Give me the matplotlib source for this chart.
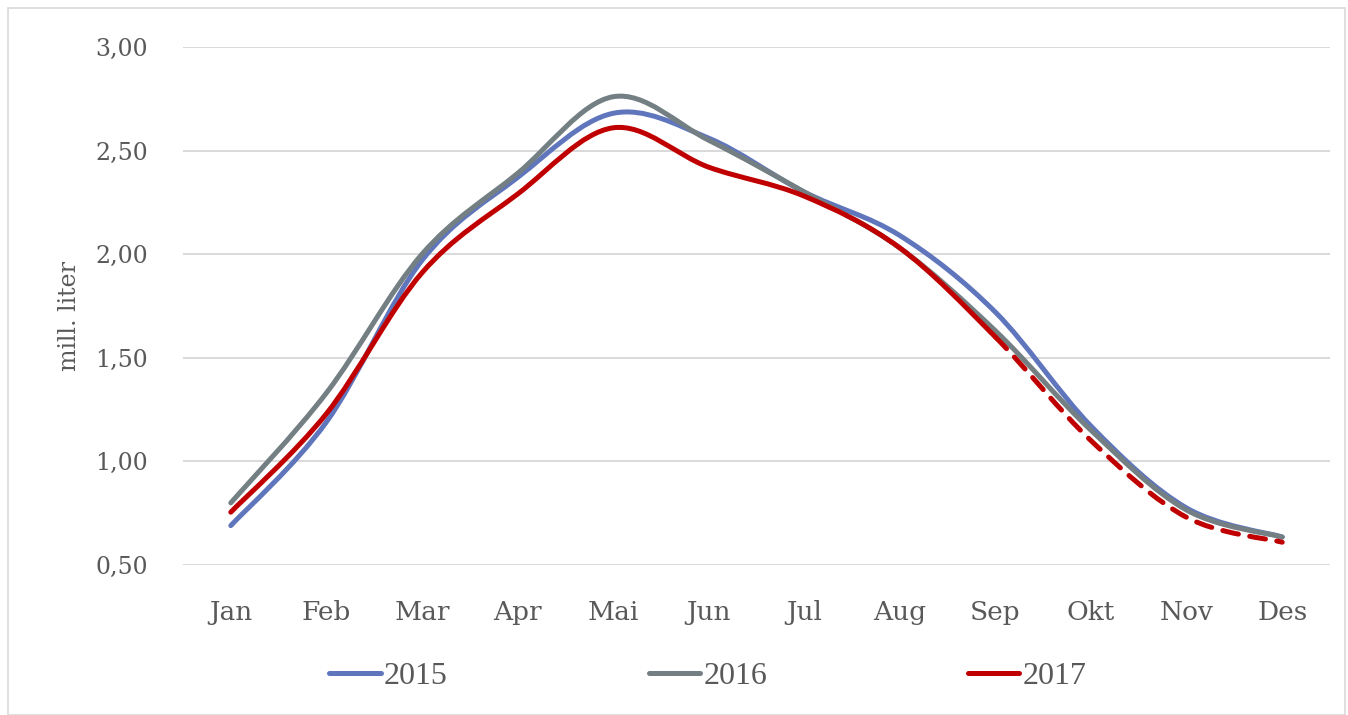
import numpy as np
import matplotlib.pyplot as plt
from matplotlib.path import Path
from matplotlib.patches import PathPatch, Rectangle
from matplotlib.lines import Line2D
from matplotlib.ticker import FuncFormatter

months = ["Jan", "Feb", "Mar", "Apr", "Mai", "Jun", "Jul", "Aug", "Sep", "Okt", "Nov", "Des"]
y2015 = [0.69, 1.19, 1.97, 2.37, 2.68, 2.56, 2.30, 2.09, 1.72, 1.17, 0.775, 0.635]
y2016 = [0.80, 1.33, 2.00, 2.39, 2.76, 2.55, 2.30, 2.03, 1.63, 1.15, 0.765, 0.635]
y2017 = [0.755, 1.23, 1.91, 2.29, 2.61, 2.42, 2.28, 2.03, 1.60, 1.10, 0.73, 0.61]
years = ["2015", "2016", "2017"]
colors = ["#6076BC", "#737F82", "#C00000"]

TXT = "#595959"
FONT = "DejaVu Serif"
LEGFONT = "Liberation Serif"


def smooth_path(xs, ys, start, stop):
    # excel-like smoothed line: bezier segments through the data points
    pts = np.column_stack([xs, ys]).astype(float)
    n = len(pts)
    verts = [pts[start]]
    codes = [Path.MOVETO]
    for i in range(start, stop):
        p0 = pts[max(i - 1, 0)]
        p1 = pts[i]
        p2 = pts[i + 1]
        p3 = pts[min(i + 2, n - 1)]
        c1 = p1 + (p2 - p0) / 6
        c2 = p2 - (p3 - p1) / 6
        verts += [c1, c2, p2]
        codes += [Path.CURVE4] * 3
    return Path(verts, codes)


fig = plt.figure(figsize=(13.48, 7.15), dpi=100)
ax = fig.add_axes([183 / 1348, 1 - 565 / 715, (1330 - 183) / 1348, (565 - 47) / 715])

x = np.arange(len(months))
for yr, vals, c in zip(years, [y2015, y2016, y2017], colors):
    if yr == "2017":
        ax.add_patch(PathPatch(smooth_path(x, vals, 0, 8), fill=False, edgecolor=c,
                               lw=3.6, capstyle="round", joinstyle="round", zorder=3))
        ax.add_patch(PathPatch(smooth_path(x, vals, 8, 11), fill=False, edgecolor=c,
                               lw=3.6, linestyle=(0, (3.2, 2.3)), capstyle="round", zorder=3))
    else:
        ax.add_patch(PathPatch(smooth_path(x, vals, 0, 11), fill=False, edgecolor=c,
                               lw=3.6, capstyle="round", joinstyle="round", zorder=3))

ax.set_xlim(-0.5, 11.5)
ax.set_ylim(0.5, 3.0)
ax.set_yticks([0.5, 1.0, 1.5, 2.0, 2.5, 3.0])
ax.yaxis.set_major_formatter(FuncFormatter(lambda v, p: f"{v:.2f}".replace(".", ",")))
ax.set_xticks(x)
ax.set_xticklabels(months)
ax.grid(axis="y", color="#D9D9D9", lw=1.4)
ax.set_axisbelow(True)
for s in ax.spines.values():
    s.set_visible(False)
ax.tick_params(length=0, labelcolor=TXT)
ax.tick_params(axis="y", pad=25, labelsize=17)
ax.tick_params(axis="x", pad=25, labelsize=19)
for lab in ax.get_xticklabels() + ax.get_yticklabels():
    lab.set_fontfamily(FONT)
ax.set_ylabel("mill. liter", fontsize=17, color=TXT, fontfamily=FONT)
ax.yaxis.set_label_coords(-102 / 1147, 0.48)

handles = [Line2D([], [], color=c, lw=3.6, solid_capstyle="round") for c in colors]
fig.legend(handles, years, loc="center", bbox_to_anchor=(708 / 1348, 1 - 676 / 715),
           ncol=3, frameon=False, handlelength=1.6, handletextpad=0.1,
           columnspacing=6.3, prop={"family": LEGFONT, "size": 23}, labelcolor=TXT)

fig.add_artist(Rectangle((8 / 1348, 0), 1337 / 1348, 1 - 8 / 715, transform=fig.transFigure,
                         fill=False, edgecolor="#D9D9D9", lw=1.2))

fig.savefig("out.png", dpi=100)
